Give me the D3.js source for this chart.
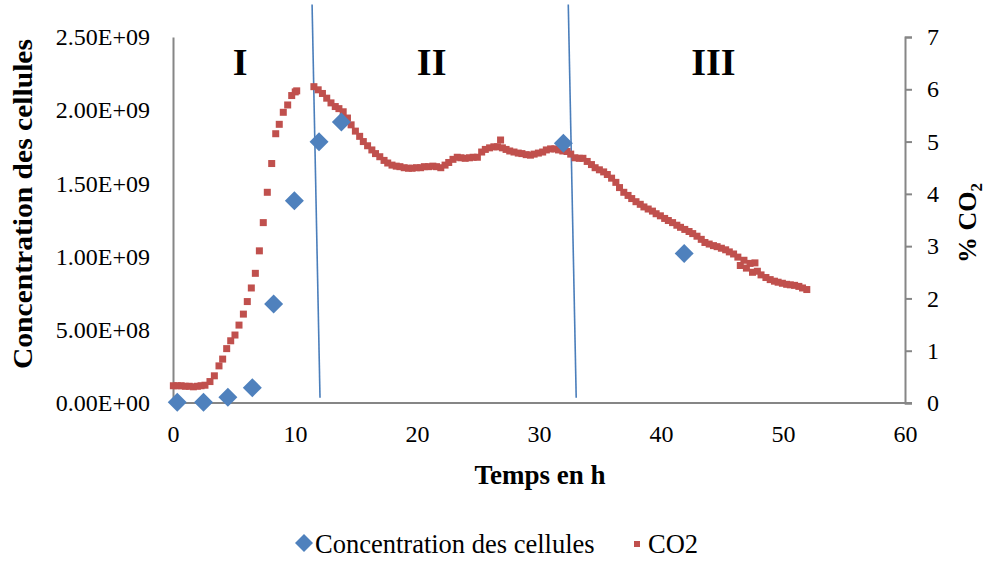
<!DOCTYPE html>
<html><head><meta charset="utf-8">
<script src="https://cdn.jsdelivr.net/npm/d3@7"></script>
<style>body{margin:0;background:#fff}svg{display:block}text{font-family:"Liberation Serif","Times New Roman",serif}</style>
</head><body>
<svg id="c" width="985" height="563"></svg>
<script>
// ---- data ----
const cellTimes = [0.35, 2.5, 4.5, 6.5, 8.25, 9.95, 11.97, 13.8, 32.0, 41.9];
const cellConc  = [0.005e9, 0.005e9, 0.04e9, 0.105e9, 0.676e9, 1.382e9, 1.785e9, 1.92e9, 1.774e9, 1.022e9];

const co2Times = [
  0.03,0.35,0.67,1.0,1.33,1.67,2.0,2.3,2.62,3.03,3.39,3.77,4.07,4.4,4.73,5.08,5.41,5.77,6.09,6.42,6.75,7.08,7.4,7.73,8.09,8.42,8.71,9.04,9.4,9.73,10.02,10.14,
  11.55,11.9,12.25,12.6,12.95,13.3,13.6,13.95,14.3,14.6,14.95,15.3,15.6,15.95,16.3,16.6,16.95,17.3,17.6,17.95,18.3,18.6,18.95,19.3,19.6,19.95,20.3,20.6,20.95,21.3,21.6,21.95,22.3,22.6,22.95,23.3,23.6,23.95,24.3,24.6,24.95,25.3,25.6,25.95,26.3,26.6,26.85,27.0,27.3,27.6,27.95,28.3,28.6,28.95,29.3,29.6,29.95,30.3,30.6,30.95,31.3,31.6,31.95,32.3,32.6,
  32.95,33.3,33.6,33.95,34.3,34.6,34.95,35.3,35.6,35.95,36.3,36.6,36.95,37.3,37.6,37.95,38.3,38.6,38.95,39.3,39.6,39.95,40.3,40.6,40.95,41.3,41.6,41.95,42.3,42.6,42.95,43.3,43.6,43.95,44.3,44.6,44.95,45.3,45.6,45.95,46.3,46.5,46.8,47.0,47.3,47.5,47.7,47.9,48.2,48.6,48.95,49.3,49.6,49.95,50.3,50.6,50.95,51.3,51.6,51.95
];
const co2Values = [
  0.33,0.33,0.33,0.32,0.32,0.31,0.32,0.33,0.34,0.41,0.52,0.71,0.84,1.04,1.19,1.30,1.49,1.70,1.94,2.20,2.48,2.91,3.45,4.03,4.58,5.15,5.33,5.56,5.70,5.88,5.95,5.97,
  6.05,5.99,5.92,5.83,5.74,5.67,5.63,5.57,5.45,5.32,5.20,5.10,5.00,4.92,4.84,4.77,4.71,4.64,4.59,4.55,4.53,4.52,4.50,4.49,4.49,4.50,4.50,4.52,4.52,4.53,4.52,4.50,4.55,4.60,4.66,4.70,4.69,4.68,4.69,4.70,4.70,4.80,4.85,4.88,4.90,4.90,5.03,4.88,4.85,4.82,4.80,4.78,4.77,4.75,4.74,4.76,4.78,4.80,4.84,4.86,4.86,4.84,4.82,4.81,4.76,
  4.69,4.68,4.68,4.62,4.56,4.50,4.46,4.42,4.37,4.30,4.22,4.12,4.03,3.97,3.91,3.85,3.80,3.75,3.71,3.67,3.62,3.58,3.53,3.49,3.45,3.40,3.36,3.32,3.28,3.24,3.19,3.13,3.07,3.04,3.01,2.99,2.96,2.93,2.89,2.85,2.79,2.63,2.73,2.58,2.67,2.50,2.68,2.52,2.45,2.40,2.36,2.33,2.31,2.29,2.27,2.26,2.25,2.23,2.20,2.17
];

const leftTicks  = [0, 0.5e9, 1.0e9, 1.5e9, 2.0e9, 2.5e9];
const leftTickLabels = ["0.00E+00","5.00E+08","1.00E+09","1.50E+09","2.00E+09","2.50E+09"];
const rightTicks = [0,1,2,3,4,5,6,7];
const xTicks     = [0,10,20,30,40,50,60];

const phaseLines  = [{t1:11.4, c1:7.62, t2:12.05, c2:0.1}, {t1:32.4, c1:7.62, t2:33.05, c2:0.1}];
const phaseLabels = ["I","II","III"];
const phaseLabelT = [5.5, 21.2, 44.3];
const phaseLabelC = 6.52;

const xTitle = "Temps en h";
const yLeftTitle = "Concentration des cellules";
const legendLabels = ["Concentration des cellules", "CO2"];

// ---- drawing ----
const svg = d3.select("#c");
const L = 173, R = 905, T = 37, B = 403;
const x  = d3.scaleLinear().domain([0,60]).range([L,R]);
const yL = d3.scaleLinear().domain([0,2.5e9]).range([B,T]);
const yR = d3.scaleLinear().domain([0,7]).range([B,T]);

const serif = '"Liberation Serif","Times New Roman",serif';
const axisColor = "#868686";
const blue = "#4f81bd", red = "#c0504d", lineBlue = "#4a7ebb";

const gL = svg.append("g").attr("transform",`translate(${L},0)`)
  .call(d3.axisLeft(yL).tickValues(leftTicks).tickFormat((d,i)=>leftTickLabels[i]).tickSize(0).tickPadding(23));
const gR = svg.append("g").attr("transform",`translate(${R},0)`)
  .call(d3.axisRight(yR).tickValues(rightTicks).tickFormat(d3.format("d")).tickSize(7).tickPadding(15));
const gB = svg.append("g").attr("transform",`translate(0,${B})`)
  .call(d3.axisBottom(x).tickValues(xTicks).tickFormat(d3.format("d")).tickSize(0).tickPadding(22));

[gL,gR,gB].forEach(g=>{
  g.attr("font-family",serif).attr("font-size",24);
  g.select(".domain").attr("stroke",axisColor).attr("stroke-width",2);
  g.selectAll(".tick line").attr("stroke",axisColor).attr("stroke-width",2);
  g.selectAll(".tick text").style("font-family",serif).attr("font-size",24).attr("fill","#000");
});
gB.select(".domain").attr("d",`M${L},0H${R+7}`);

svg.append("g").selectAll("line").data(phaseLines).join("line")
  .attr("x1",d=>x(d.t1)).attr("y1",d=>yR(d.c1))
  .attr("x2",d=>x(d.t2)).attr("y2",d=>yR(d.c2))
  .attr("stroke",lineBlue).attr("stroke-width",1.6);

const sq = 7;
svg.append("g").selectAll("rect").data(co2Times.map((t,i)=>[t,co2Values[i]])).join("rect")
  .attr("x",d=>x(d[0])-sq/2).attr("y",d=>yR(d[1])-sq/2)
  .attr("width",sq).attr("height",sq).attr("fill",red);

const dsz = 9.5;
const diamond = (cx,cy,r)=>`M${cx},${cy-r}L${cx+r},${cy}L${cx},${cy+r}L${cx-r},${cy}Z`;
svg.append("g").selectAll("path").data(cellTimes.map((t,i)=>[t,cellConc[i]])).join("path")
  .attr("d",d=>diamond(x(d[0]),yL(d[1]),dsz)).attr("fill",blue);

svg.append("g").selectAll("text").data(phaseLabels).join("text")
  .attr("x",(d,i)=>x(phaseLabelT[i])).attr("y",yR(phaseLabelC))
  .attr("text-anchor","middle").attr("dominant-baseline","central")
  .style("font-family",serif).attr("font-weight","bold").attr("font-size",38)
  .text(d=>d);

svg.append("text").attr("x",540).attr("y",484)
  .attr("text-anchor","middle").style("font-family",serif).attr("font-weight","bold").attr("font-size",27)
  .text(xTitle);
svg.append("text").attr("transform",`translate(32,204) rotate(-90)`)
  .attr("text-anchor","middle").style("font-family",serif).attr("font-weight","bold").attr("font-size",27)
  .attr("textLength",330).attr("lengthAdjust","spacingAndGlyphs")
  .text(yLeftTitle);
const rt = svg.append("text").attr("transform",`translate(976,223) rotate(-90)`)
  .attr("text-anchor","middle").style("font-family",serif).attr("font-weight","bold").attr("font-size",26);
rt.append("tspan").text("% CO");
rt.append("tspan").attr("font-size",17).attr("dy",6).text("2");

const lg = svg.append("g");
lg.append("path").attr("d",diamond(304,543,9)).attr("fill",blue);
lg.append("text").attr("x",315).attr("y",553).style("font-family",serif).attr("font-size",26.5).text(legendLabels[0]);
lg.append("rect").attr("x",634).attr("y",541).attr("width",6).attr("height",6).attr("fill",red);
lg.append("text").attr("x",648).attr("y",553).style("font-family",serif).attr("font-size",26.5).text(legendLabels[1]);
</script>
</body></html>
